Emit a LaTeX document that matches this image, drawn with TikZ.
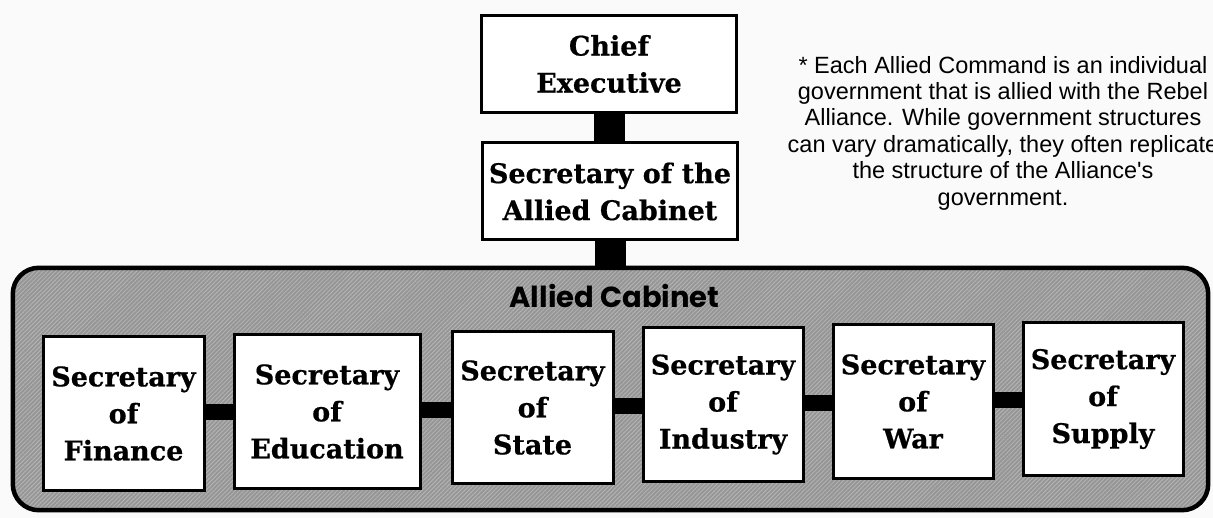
\documentclass[tikz,border=0pt]{standalone}
\usepackage{fontspec}
\usetikzlibrary{patterns.meta}
\newfontfamily\boxfont{DejaVu Serif}[BoldFeatures={FakeBold=0.6}]
\newfontfamily\notefont{Liberation Sans}
\newfontfamily\titlefont{Poppins}
\definecolor{cabgray}{RGB}{150,150,150}
\definecolor{hatch}{RGB}{182,182,182}
\definecolor{paper}{RGB}{250,250,250}
\begin{document}
\begin{tikzpicture}[x=1pt,y=-1pt,
  office/.style={draw=black, line width=3pt, fill=white, inner sep=0pt, align=center,
    font=\boxfont\bfseries\fontsize{27}{37}\selectfont},
  cabinet/.style={fill=cabgray, rounded corners=26pt, inner sep=0pt},
  frame/.style={draw=black, line width=4.5pt, rounded corners=26pt},
  hlink/.style={line width=16pt, draw=black},
  vlink/.style={line width=31pt, draw=black},
  note/.style={align=center, inner sep=0pt, font=\notefont\fontsize{23.5}{26.4}\selectfont},
  cabtitle/.style={inner sep=0pt, font=\titlefont\bfseries\fontsize{29}{32}\selectfont}]
\useasboundingbox (0,0) rectangle (1213,518);
\fill[paper] (0,0) rectangle (1213,518);
% top
\node[office, minimum width=255pt, minimum height=97pt] (ce) at (609,64) {Chief\\Executive};
\node[office, minimum width=255pt, minimum height=97pt] (sac) at (610,191.5) {Secretary of the\\Allied Cabinet};
\draw[vlink] (ce.south) -- (ce.south |- sac.north);
% cabinet frame
\node[cabinet, minimum width=1195pt, minimum height=242pt] (cab) at (610.5,389) {};
\fill[pattern={Lines[angle=45, distance=3pt, line width=0.8pt]}, pattern color=hatch, rounded corners=24pt]
  ([shift={(2,2)}]cab.north west) rectangle ([shift={(-2,-2)}]cab.south east);
\draw[frame] (cab.north west) rectangle (cab.south east);
\draw[vlink] (sac.south) -- (sac.south |- cab.north);
\node[cabtitle, anchor=base] (cabt) at (614.5,308) {Allied Cabinet};
% secretaries
\node[office, minimum width=161pt, minimum height=153pt] (fin) at (123.5,413.5) {Secretary\\of\\Finance};
\node[office, minimum width=186pt, minimum height=153pt] (edu) at (327,411.5) {Secretary\\of\\Education};
\node[office, minimum width=161pt, minimum height=151pt] (sta) at (532.5,407.5) {Secretary\\of\\State};
\node[office, minimum width=160pt, minimum height=153pt] (ind) at (723,404.5) {Secretary\\of\\Industry};
\node[office, minimum width=160pt, minimum height=153pt] (war) at (913,401.5) {Secretary\\of\\War};
\node[office, minimum width=160pt, minimum height=152pt] (sup) at (1103,399) {Secretary\\of\\Supply};
\draw[hlink] ([yshift=1]fin.east) -- ([yshift=1]fin.east -| edu.west);
\draw[hlink] ([yshift=1]edu.east) -- ([yshift=1]edu.east -| sta.west);
\draw[hlink] ([yshift=1]sta.east) -- ([yshift=1]sta.east -| ind.west);
\draw[hlink] ([yshift=1]ind.east) -- ([yshift=1]ind.east -| war.west);
\draw[hlink] ([yshift=1]war.east) -- ([yshift=1]war.east -| sup.west);
% note
\node[note] (nt) at (1003,133) {* Each Allied Command is an individual\\government that is allied with the Rebel\\Alliance. While government structures\\can vary dramatically, they often replicate\\the structure of the Alliance's\\government.};
\end{tikzpicture}
\end{document}
